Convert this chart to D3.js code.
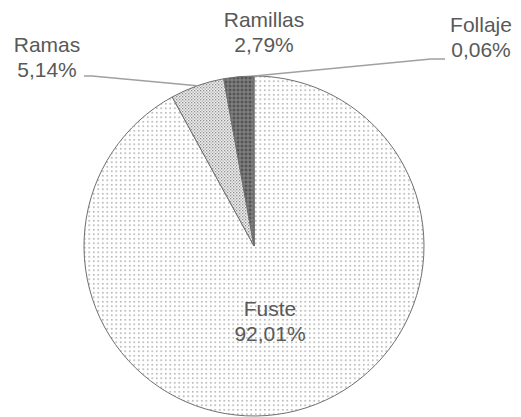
<!DOCTYPE html>
<html>
<head>
<meta charset="utf-8">
<script src="https://cdn.jsdelivr.net/npm/d3@7"></script>
<style>
  body { margin: 0; background: #fff; }
  text { font-family: "Liberation Sans", Arial, sans-serif; fill: #595959; }
</style>
</head>
<body>
<div id="chart"></div>
<script>
var width = 521, height = 417

var categories = ["Fuste", "Ramas", "Ramillas", "Follaje"]
var values = [92.01, 5.14, 2.79, 0.06]
var patterns = ["pFuste", "pRamas", "pRamillas", "pFollaje"]

// label anchor (centre of text block, first baseline) and leader bend
var labelPos = [
    {x: 270, y: 316, leader: null},
    {x: 47, y: 52, leader: [[84, 76], [92, 76]]},
    {x: 264, y: 27, leader: null},
    {x: 481, y: 32, leader: [[445, 59], [431, 59]]}
]

var cx = 254, cy = 246, radius = 170

var svg = d3.select("#chart")
    .append("svg")
    .attr("width", width)
    .attr("height", height)

var defs = svg.append("defs")

// Fuste: sparse grey dots
var p0 = defs.append("pattern").attr("id", "pFuste")
    .attr("patternUnits", "userSpaceOnUse").attr("width", 4.5).attr("height", 4.5)
p0.append("rect").attr("width", 4.5).attr("height", 4.5).attr("fill", "#fff")
p0.append("rect").attr("x", 1).attr("y", 1).attr("width", 1.5).attr("height", 1.5).attr("fill", "#a6a6a6")

// Ramas: dense stipple
var p1 = defs.append("pattern").attr("id", "pRamas")
    .attr("patternUnits", "userSpaceOnUse").attr("width", 3).attr("height", 3)
p1.append("rect").attr("width", 3).attr("height", 3).attr("fill", "#eeeeee")
p1.append("rect").attr("x", 0).attr("y", 0).attr("width", 1.3).attr("height", 1.3).attr("fill", "#909090")
p1.append("rect").attr("x", 1.5).attr("y", 1.5).attr("width", 1.3).attr("height", 1.3).attr("fill", "#a8a8a8")

// Ramillas: dark with lighter grid
var p2 = defs.append("pattern").attr("id", "pRamillas")
    .attr("patternUnits", "userSpaceOnUse").attr("width", 4).attr("height", 4)
p2.append("rect").attr("width", 4).attr("height", 4).attr("fill", "#555")
p2.append("rect").attr("x", 0).attr("y", 1.5).attr("width", 4).attr("height", 1).attr("fill", "#8c8c8c")
p2.append("rect").attr("x", 1.5).attr("y", 0).attr("width", 1).attr("height", 4).attr("fill", "#8c8c8c")

var p3 = defs.append("pattern").attr("id", "pFollaje")
    .attr("patternUnits", "userSpaceOnUse").attr("width", 4).attr("height", 4)
p3.append("rect").attr("width", 4).attr("height", 4).attr("fill", "#999")

var data = categories.map(function(c, i) {
    return {name: c, value: values[i], pat: patterns[i], lab: labelPos[i]}
})

var pie = d3.pie().sort(null).value(function(d) { return d.value })
var arc = d3.arc().innerRadius(0).outerRadius(radius)
var arcs = pie(data)

var g = svg.append("g").attr("transform", "translate(" + cx + "," + cy + ")")

g.selectAll("path.slice")
    .data(arcs)
    .enter().append("path")
    .attr("class", "slice")
    .attr("d", arc)
    .attr("fill", function(d) { return "url(#" + d.data.pat + ")" })
    .attr("stroke", "#6f6f6f")
    .attr("stroke-width", 1)

// leader lines
arcs.forEach(function(d) {
    if (!d.data.lab.leader) return
    var mid = (d.startAngle + d.endAngle) / 2
    var edge = [cx + radius * Math.sin(mid), cy - radius * Math.cos(mid)]
    var pts = d.data.lab.leader.concat([edge])
    svg.append("path")
        .attr("d", d3.line()(pts))
        .attr("fill", "none")
        .attr("stroke", "#a0a0a0")
        .attr("stroke-width", 1.6)
})

function fmt(v) { return d3.format(".2f")(v).replace(".", ",") + "%" }

var labels = svg.selectAll("text.lab")
    .data(arcs)
    .enter().append("text")
    .attr("class", "lab")
    .attr("text-anchor", "middle")
    .style("font-size", "21px")

labels.append("tspan")
    .attr("x", function(d) { return d.data.lab.x })
    .attr("y", function(d) { return d.data.lab.y })
    .text(function(d) { return d.data.name })
labels.append("tspan")
    .attr("x", function(d) { return d.data.lab.x })
    .attr("y", function(d) { return d.data.lab.y + 25 })
    .text(function(d) { return fmt(d.data.value) })
</script>
</body>
</html>
